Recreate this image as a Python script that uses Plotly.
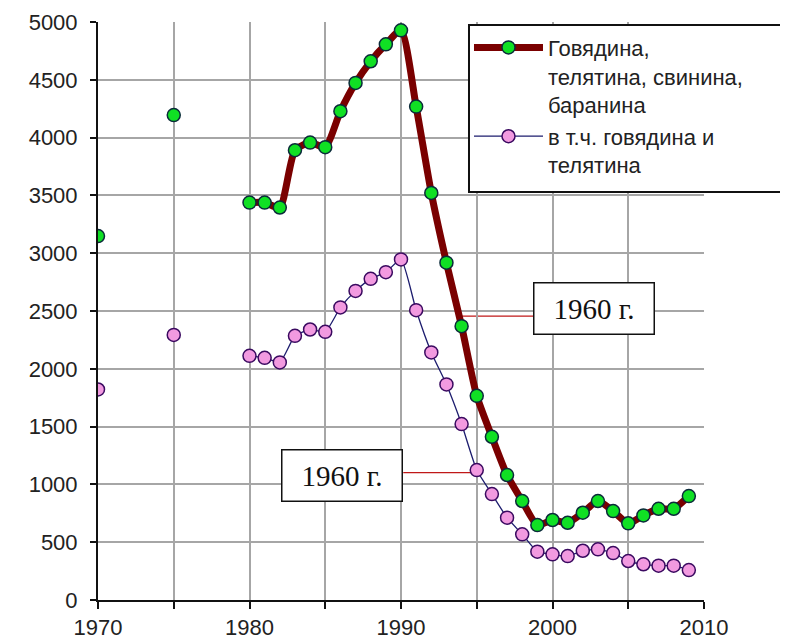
import plotly.graph_objects as go

# ---- data ----
years_early = [1970, 1975]
total_early = [3148, 4195]
beef_early = [1821, 2293]

years = list(range(1980, 2010))
total = [3438, 3438, 3395, 3891, 3957, 3917, 4228, 4473, 4660, 4807,
         4928, 4268, 3521, 2918, 2369, 1766, 1412, 1081, 856, 648,
         692, 668, 755, 856, 769, 663, 732, 789, 789, 899]
beef = [2112, 2095, 2055, 2285, 2340, 2320, 2531, 2674, 2778, 2836,
        2946, 2507, 2142, 1865, 1522, 1124, 916, 712, 568, 418,
        395, 380, 426, 438, 406, 337, 309, 297, 297, 259]

name_total = "Говядина,<br>телятина, свинина,<br>баранина"
name_beef = "в т.ч. говядина и<br>телятина"

x_ticks = [1970, 1975, 1980, 1985, 1990, 1995, 2000, 2005, 2010]
x_ticktext = ["1970", "", "1980", "", "1990", "", "2000", "", "2010"]
y_ticks = list(range(0, 5001, 500))

note_text = "1960 г."

# ---- styles ----
GREEN = "#10e024"
GREEN_EDGE = "#0b2a3a"
PINK = "#f29ae0"
PINK_EDGE = "#3a0a60"
DARKRED = "#7a0000"
NAVY = "#1c1c6e"
GRID = "#a6a6a6"
FONT = "Liberation Sans, Arial, sans-serif"

fig = go.Figure()

fig.add_trace(go.Scatter(
    x=years, y=total, name=name_total, mode="lines+markers",
    line=dict(color=DARKRED, width=7, shape="spline", smoothing=0.6),
    marker=dict(size=13, color=GREEN, line=dict(color=GREEN_EDGE, width=1.5)),
))
fig.add_trace(go.Scatter(
    x=years_early, y=total_early, mode="markers", showlegend=False,
    marker=dict(size=13, color=GREEN, line=dict(color=GREEN_EDGE, width=1.5)),
))
fig.add_trace(go.Scatter(
    x=years, y=beef, name=name_beef, mode="lines+markers",
    line=dict(color=NAVY, width=1.3, shape="spline", smoothing=0.5),
    marker=dict(size=13, color=PINK, line=dict(color=PINK_EDGE, width=1.5)),
))
fig.add_trace(go.Scatter(
    x=years_early, y=beef_early, mode="markers", showlegend=False,
    marker=dict(size=13, color=PINK, line=dict(color=PINK_EDGE, width=1.5)),
))

# connector lines for the notes
fig.add_shape(type="line", xref="x", yref="y", x0=1994.03, x1=1998.73,
              y0=2455, y1=2455, line=dict(color="#c01818", width=1.3), layer="below")
fig.add_shape(type="line", xref="x", yref="y", x0=1990.15, x1=1994.76,
              y0=1101, y1=1101, line=dict(color="#c01818", width=1.3), layer="below")

# legend frame (runs off the right edge like the reference)
fig.add_shape(type="rect", xref="paper", yref="paper",
              x0=0.6122, x1=1.2, y0=0.706, y1=0.9948,
              fillcolor="white", line=dict(color="#111", width=2), layer="above")

for cx, cy in [(2002.76, 2519), (1986.08, 1081)]:
    fig.add_annotation(
        x=cx, y=cy, xref="x", yref="y", text=note_text, showarrow=False,
        xanchor="center", yanchor="middle",
        font=dict(family="Liberation Serif, Times New Roman, serif", size=29, color="#111"),
        bgcolor="white", bordercolor="#111", borderwidth=1.5, borderpad=0,
        width=119, height=50,
    )

# page body adds an 8px offset, so the figure is 780x636
fig.update_layout(
    template="none",
    width=780, height=636,
    margin=dict(l=90, r=84, t=14, b=44, autoexpand=False),
    paper_bgcolor="white", plot_bgcolor="white",
    font=dict(family=FONT, size=22, color="#222"),
    showlegend=True,
    legend=dict(
        x=0.6122, y=0.992, xanchor="left", yanchor="top",
        bgcolor="rgba(0,0,0,0)", borderwidth=0,
        font=dict(family=FONT, size=22, color="#222"),
        valign="top", tracegroupgap=2, itemwidth=69,
    ),
)

fig.update_xaxes(
    range=[1970, 2010], tickvals=x_ticks, ticktext=x_ticktext,
    showgrid=True, gridcolor=GRID, gridwidth=1.5,
    showline=True, linecolor="#111", linewidth=2,
    ticks="outside", ticklen=7, tickcolor="#111", tickwidth=1.5,
    tickfont=dict(family=FONT, size=22, color="#222"),
    zeroline=False, automargin=False,
)
fig.update_yaxes(
    range=[0, 5000], tickvals=y_ticks,
    showgrid=True, gridcolor=GRID, gridwidth=1.5,
    showline=True, linecolor="#111", linewidth=2,
    ticks="outside", ticklen=6, tickcolor="#111", tickwidth=1.5,
    tickfont=dict(family=FONT, size=22, color="#222"),
    ticklabelstandoff=8,
    zeroline=False, automargin=False,
)

fig.write_html("out.html")
